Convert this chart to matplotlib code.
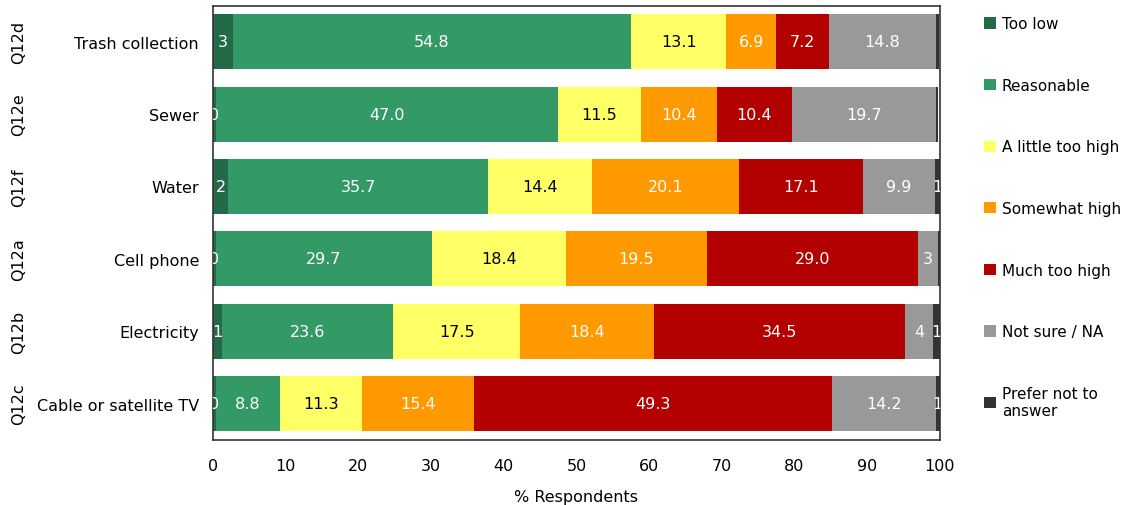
import matplotlib.pyplot as plt
from matplotlib.patches import Patch

# datos
codes = ["Q12d", "Q12e", "Q12f", "Q12a", "Q12b", "Q12c"]
items = ["Trash collection", "Sewer", "Water", "Cell phone", "Electricity", "Cable or satellite TV"]
categories = ["Too low", "Reasonable", "A little too high", "Somewhat high",
              "Much too high", "Not sure / NA", "Prefer not to\nanswer"]

too_low     = [2.7, 0.4, 2.1, 0.4, 1.2, 0.4]
reasonable  = [54.8, 47.0, 35.7, 29.7, 23.6, 8.8]
little_high = [13.1, 11.5, 14.4, 18.4, 17.5, 11.3]
somewhat    = [6.9, 10.4, 20.1, 19.5, 18.4, 15.4]
much_high   = [7.2, 10.4, 17.1, 29.0, 34.5, 49.3]
not_sure    = [14.8, 19.7, 9.9, 2.8, 3.9, 14.2]
prefer_not  = [0.4, 0.4, 0.7, 0.2, 0.9, 0.6]

series = [too_low, reasonable, little_high, somewhat, much_high, not_sure, prefer_not]
colors = ["#236b48", "#339966", "#ffff66", "#ff9900", "#b30000", "#999999", "#333333"]
text_colors = ["white", "white", "black", "white", "white", "white", "white"]

fig = plt.figure(figsize=(11.27, 5.06), dpi=100)
ax = fig.add_axes([0.189, 0.129, 0.645, 0.858])

y = list(range(len(items)))
left = [0.0] * len(items)
for k, vals in enumerate(series):
    ax.barh(y, vals, left=left, height=0.76, color=colors[k], edgecolor="none")
    for i, v in enumerate(vals):
        if v < 5:
            lab = "%d" % round(v)
            if k == len(series) - 1 and round(v) < 1:
                lab = ""
        else:
            lab = "%.1f" % v
        if lab:
            ax.text(left[i] + v / 2, i, lab, ha="center", va="center",
                    color=text_colors[k], fontsize=11.5, clip_on=True)
    left = [l + v for l, v in zip(left, vals)]

ax.set_xlim(0, 100)
ax.set_ylim(len(items) - 0.5, -0.5)
ax.set_xticks(range(0, 101, 10))
ax.set_yticks(y)
ax.set_yticklabels(items, fontsize=11.5)
ax.tick_params(axis="x", length=0, labelsize=11.5, pad=13)
ax.tick_params(axis="y", length=0, pad=10)
ax.set_xlabel("% Respondents", fontsize=11.5, labelpad=12)
for s in ax.spines.values():
    s.set_color("#333333")
    s.set_linewidth(1.2)

# codigos de pregunta
for i, c in enumerate(codes):
    ax.text(-0.268, i, c, transform=ax.get_yaxis_transform(), rotation=90,
            ha="center", va="center", fontsize=11.5)

handles = [Patch(facecolor=c, edgecolor="none") for c in colors]
fig.legend(handles, categories, loc="upper left", bbox_to_anchor=(0.861, 0.993),
           frameon=False, fontsize=11, handlelength=0.75, handleheight=0.75,
           handletextpad=0.4, labelspacing=3.05)

fig.savefig("out.png", dpi=100)
